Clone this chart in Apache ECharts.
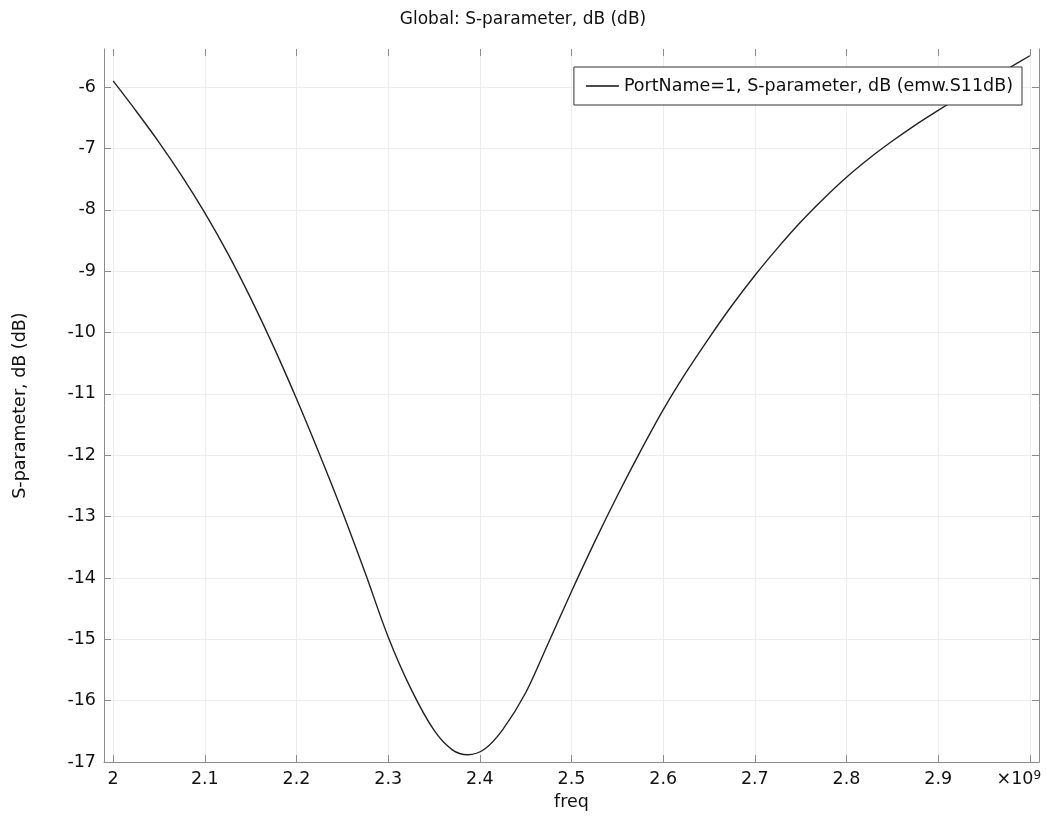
<!DOCTYPE html>
<html>
<head>
<meta charset="utf-8">
<script src="https://cdn.jsdelivr.net/npm/echarts@6/dist/echarts.min.js"></script>
<style>
    html, body { margin: 0; padding: 0; background: #fff; }
    #chart { width: 1046px; height: 816px; }
</style>
</head>
<body>
<div id="chart"></div>
<script>
// 频率 (GHz) 和 S11 (dB)，从图上读出来的
let freqGHz = [2.0, 2.025, 2.05, 2.075, 2.1, 2.125, 2.15, 2.175, 2.2, 2.225, 2.25, 2.275, 2.3, 2.325, 2.35, 2.37, 2.387, 2.405, 2.425, 2.45, 2.475, 2.5, 2.525, 2.55, 2.575, 2.6, 2.625, 2.65, 2.675, 2.7, 2.725, 2.75, 2.775, 2.8, 2.825, 2.85, 2.875, 2.9, 2.925, 2.95, 2.975, 3.0];
let s11dB = [-5.90, -6.39, -6.90, -7.45, -8.05, -8.71, -9.44, -10.23, -11.08, -11.98, -12.92, -13.92, -14.96, -15.81, -16.48, -16.80, -16.88, -16.79, -16.47, -15.87, -15.05, -14.22, -13.42, -12.66, -11.94, -11.26, -10.65, -10.09, -9.56, -9.07, -8.62, -8.20, -7.82, -7.47, -7.16, -6.88, -6.62, -6.38, -6.15, -5.93, -5.71, -5.49];

let xTickValues = [2.0, 2.1, 2.2, 2.3, 2.4, 2.5, 2.6, 2.7, 2.8, 2.9, 3.0];
let xTickLabels = ['2', '2.1', '2.2', '2.3', '2.4', '2.5', '2.6', '2.7', '2.8', '2.9', '{a|×10}{s|9}'];
let yTickValues = [-17, -16, -15, -14, -13, -12, -11, -10, -9, -8, -7, -6];

let seriesName = 'PortName=1, S-parameter, dB (emw.S11dB)';

let points = [];
for (let i = 0; i < freqGHz.length; i++) {
    points.push([freqGHz[i], s11dB[i]]);
}

let fontFamily = 'DejaVu Sans';
let axisGray = '#8c8c8c';
let gridGray = '#ededed';

let chart = echarts.init(document.getElementById('chart'), null, {renderer: 'canvas'});
chart.setOption({
    animation: false,
    backgroundColor: '#fff',
    textStyle: { fontFamily: fontFamily },
    title: {
        text: 'Global: S-parameter, dB (dB)',
        left: 'center',
        top: 6,
        textStyle: {
            fontFamily: fontFamily,
            fontSize: 17,
            fontWeight: 'normal',
            color: '#111'
        }
    },
    legend: {
        data: [seriesName],
        right: 24,
        top: 67,
        padding: [10, 9, 10, 12],
        icon: 'rect',
        itemWidth: 33,
        itemHeight: 1.3,
        backgroundColor: '#fff',
        borderColor: '#333',
        borderWidth: 1,
        itemStyle: { color: '#111' },
        textStyle: {
            fontFamily: fontFamily,
            fontSize: 17.5,
            color: '#111'
        }
    },
    grid: {
        left: 104,
        right: 7,
        top: 49,
        bottom: 44
    },
    xAxis: [
        {
            type: 'value',
            position: 'bottom',
            min: 1.99,
            max: 3.01,
            name: 'freq',
            nameLocation: 'middle',
            nameGap: 21,
            nameTextStyle: { fontFamily: fontFamily, fontSize: 17.5, color: '#111' },
            axisLine: { show: true, lineStyle: { color: axisGray } },
            axisTick: {
                show: true,
                inside: true,
                length: 7,
                customValues: xTickValues,
                lineStyle: { color: axisGray }
            },
            axisLabel: {
                customValues: xTickValues,
                margin: 8,
                fontFamily: fontFamily,
                fontSize: 17.5,
                color: '#111',
                formatter: function (value) {
                    let idx = xTickValues.findIndex(function (v) { return Math.abs(v - value) < 1e-9; });
                    return idx >= 0 ? xTickLabels[idx] : '';
                },
                rich: {
                    a: { fontFamily: fontFamily, fontSize: 17.5, color: '#111' },
                    s: { fontFamily: fontFamily, fontSize: 12, color: '#111', verticalAlign: 'top', padding: [0, 22, 0, 0] }
                }
            },
            splitLine: { show: true, lineStyle: { color: gridGray } }
        },
        {
            type: 'value',
            position: 'top',
            min: 1.99,
            max: 3.01,
            axisLine: { show: false },
            axisTick: {
                show: true,
                inside: true,
                length: 7,
                customValues: xTickValues,
                lineStyle: { color: axisGray }
            },
            axisLabel: { show: false },
            splitLine: { show: false }
        }
    ],
    yAxis: [
        {
            type: 'value',
            position: 'left',
            min: -17,
            max: -5.38,
            name: 'S-parameter, dB (dB)',
            nameLocation: 'middle',
            nameRotate: 90,
            nameGap: 75,
            nameTextStyle: { fontFamily: fontFamily, fontSize: 17.5, color: '#111' },
            axisLine: { show: true, lineStyle: { color: axisGray } },
            axisTick: {
                show: true,
                inside: true,
                length: 7,
                customValues: yTickValues,
                lineStyle: { color: axisGray }
            },
            axisLabel: {
                customValues: yTickValues,
                margin: 8,
                fontFamily: fontFamily,
                fontSize: 17.5,
                color: '#111'
            },
            splitLine: { show: true, lineStyle: { color: gridGray } }
        },
        {
            type: 'value',
            position: 'right',
            min: -17,
            max: -5.38,
            axisLine: { show: true, lineStyle: { color: axisGray } },
            axisTick: {
                show: true,
                inside: true,
                length: 7,
                customValues: yTickValues,
                lineStyle: { color: axisGray }
            },
            axisLabel: { show: false },
            splitLine: { show: false }
        }
    ],
    series: [
        {
            name: seriesName,
            type: 'line',
            xAxisIndex: 0,
            yAxisIndex: 0,
            data: points,
            symbol: 'none',
            smooth: 0.3,
            lineStyle: { color: '#222', width: 1.4 },
            itemStyle: { color: '#222' }
        }
    ]
});
</script>
</body>
</html>
